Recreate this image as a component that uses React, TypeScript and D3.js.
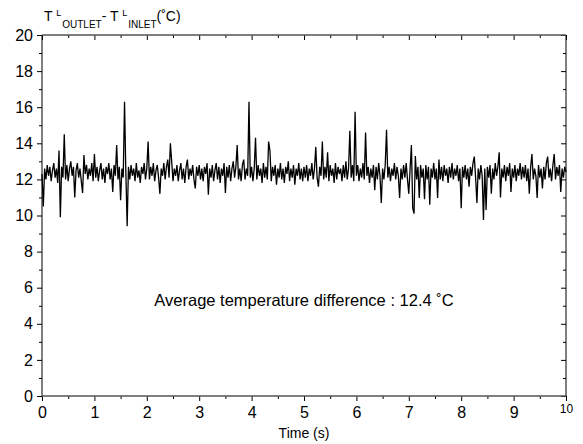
import React, { useEffect, useRef } from "react";
import * as d3 from "d3";

const sampleStep = 0.025;
const deltaT = [
  12.3, 10.5, 12.6, 12.0, 12.8, 12.2, 12.7, 11.9, 12.5, 12.9, 12.1, 12.6, 11.8, 13.6, 9.9, 12.7, 12.1, 14.5, 12.0, 12.8,
  11.9, 12.6, 13.0, 12.2, 12.7, 11.0, 12.5, 12.9, 12.1, 12.6, 11.9, 11.25, 13.35, 12.3, 12.8, 12.0, 12.6, 12.2, 12.9, 11.9,
  13.4, 12.1, 12.7, 11.9, 12.5, 12.9, 12.0, 12.6, 11.8, 12.7, 12.3, 12.9, 12.0, 12.6, 11.3, 12.8, 12.2, 13.9, 12.0, 12.7,
  10.85, 12.6, 12.1, 16.3, 12.4, 9.4, 12.7, 12.0, 12.8, 12.2, 12.6, 11.9, 12.9, 12.1, 12.5, 11.8, 12.7, 12.3, 12.9, 12.0,
  12.6, 14.1, 12.0, 12.7, 12.2, 12.9, 11.9, 12.5, 12.8, 12.1, 11.2, 12.6, 12.2, 12.9, 12.0, 12.7, 13.1, 12.1, 14.0, 13.0,
  11.9, 12.6, 12.2, 12.8, 11.9, 12.5, 12.9, 12.0, 12.6, 11.8, 12.7, 13.1, 12.0, 12.6, 12.2, 12.8, 12.0, 11.5, 12.7, 12.2,
  12.8, 12.0, 12.6, 11.9, 12.7, 12.3, 12.9, 11.15, 12.6, 12.1, 12.8, 11.9, 12.5, 12.9, 12.0, 12.7, 11.8, 12.6, 12.2, 12.9,
  11.25, 12.7, 12.1, 12.8, 11.9, 12.6, 13.0, 12.1, 12.7, 13.9, 12.0, 12.6, 11.9, 12.8, 13.1, 12.0, 12.6, 12.2, 16.3, 12.1,
  12.7, 11.9, 12.6, 14.3, 12.0, 12.8, 12.2, 12.6, 11.8, 12.9, 12.1, 12.7, 12.0, 14.1, 13.6, 11.9, 12.7, 12.2, 12.8, 11.7,
  12.6, 12.1, 12.9, 12.0, 12.6, 11.8, 12.7, 12.3, 13.0, 11.9, 12.6, 12.1, 12.8, 11.7, 12.6, 12.2, 12.9, 12.0, 12.6, 11.9,
  12.7, 12.1, 12.8, 11.9, 12.6, 12.2, 12.9, 12.0, 12.6, 13.8, 12.1, 11.6, 12.7, 12.2, 14.1, 12.0, 12.7, 12.1, 13.5, 11.9,
  12.8, 12.2, 12.6, 11.8, 12.9, 12.0, 12.7, 12.3, 12.6, 11.9, 12.8, 12.1, 13.0, 12.0, 12.6, 14.7, 12.1, 12.8, 11.9, 15.75,
  12.2, 12.8, 11.9, 12.6, 12.1, 12.9, 12.0, 14.6, 12.2, 12.7, 11.8, 12.6, 12.1, 12.8, 11.4, 12.7, 12.0, 12.9, 12.2, 10.7,
  12.6, 12.0, 12.8, 14.75, 12.1, 12.7, 11.9, 12.6, 12.2, 12.9, 12.0, 12.7, 12.2, 10.97, 12.6, 12.0, 12.8, 12.1, 12.9, 12.0,
  11.2, 12.6, 13.9, 10.4, 10.1, 13.3, 12.0, 12.7, 10.97, 12.8, 12.1, 12.6, 10.9, 12.8, 12.0, 12.7, 10.6, 12.6, 12.1, 12.9,
  12.0, 12.6, 10.97, 13.1, 12.0, 12.7, 11.9, 12.8, 12.2, 12.6, 11.8, 12.7, 12.1, 12.9, 12.0, 12.6, 12.2, 12.8, 11.9, 12.6,
  10.4, 12.7, 12.1, 12.8, 12.0, 12.6, 11.6, 12.7, 12.2, 12.9, 13.26, 12.1, 10.7, 12.6, 12.0, 12.8, 12.2, 9.75, 12.6, 10.3,
  12.7, 12.1, 12.8, 11.2, 12.6, 12.0, 12.9, 12.2, 12.7, 13.5, 11.0, 12.6, 12.1, 12.8, 11.9, 12.7, 12.2, 12.9, 11.3, 12.6,
  12.1, 12.8, 11.9, 12.6, 12.2, 12.9, 12.0, 12.7, 12.1, 12.8, 11.9, 12.6, 11.2, 12.7, 13.4, 12.0, 12.6, 12.2, 10.97, 12.8,
  12.1, 12.6, 11.5, 12.7, 12.0, 12.9, 13.26, 12.1, 12.6, 11.9, 12.8, 13.4, 12.0, 12.7, 12.2, 12.8, 11.3, 12.6, 12.1, 12.7,
  12.4,
];

const xTicks = [0, 1, 2, 3, 4, 5, 6, 7, 8, 9, 10];
const xMinor = [0.5, 1.5, 2.5, 3.5, 4.5, 5.5, 6.5, 7.5, 8.5, 9.5];
const yTicks = [0, 2, 4, 6, 8, 10, 12, 14, 16, 18, 20];
const yMinor = [1, 3, 5, 7, 9, 11, 13, 15, 17, 19];
const averageLabel = "Average temperature difference : 12.4 \u02daC";

const font = "'Liberation Sans', Arial, Helvetica, sans-serif";

const TemperatureChart = () => {
  const svgRef = useRef(null);
  const svgWidth = 583;
  const svgHeight = 444;
  const margin = { top: 35, right: 17, bottom: 48, left: 42 };
  const innerWidth = svgWidth - margin.left - margin.right;
  const innerHeight = svgHeight - margin.top - margin.bottom;

  useEffect(() => {
    const svg = d3.select(svgRef.current);
    svg.selectAll("*").remove();

    const xScale = d3.scaleLinear().domain([0, 10]).range([0, innerWidth]);
    const yScale = d3.scaleLinear().domain([0, 20]).range([innerHeight, 0]);

    const g = svg
      .append("g")
      .attr("transform", `translate(${margin.left},${margin.top})`);

    const axisG = (axis, x, y) => {
      const a = g.append("g").attr("transform", `translate(${x},${y})`).call(axis);
      a.select(".domain").remove();
      a.selectAll("line").attr("stroke", "#000");
      a.selectAll("text")
        .attr("fill", "#000")
        .style("font-family", font)
        .style("font-size", "16px");
      return a;
    };

    // left
    axisG(d3.axisLeft(yScale).tickValues(yTicks).tickSize(5).tickPadding(4).tickSizeOuter(0), 0, 0);
    axisG(d3.axisLeft(yScale).tickValues(yMinor).tickSize(3).tickFormat(() => ""), 0, 0);
    // right (ticks point inward)
    axisG(d3.axisLeft(yScale).tickValues(yTicks).tickSize(5).tickFormat(() => ""), innerWidth, 0);
    axisG(d3.axisLeft(yScale).tickValues(yMinor).tickSize(3).tickFormat(() => ""), innerWidth, 0);
    // top (ticks point inward)
    axisG(d3.axisBottom(xScale).tickValues(xTicks).tickSize(5).tickFormat(() => ""), 0, 0);
    axisG(d3.axisBottom(xScale).tickValues(xMinor).tickSize(3).tickFormat(() => ""), 0, 0);
    // bottom
    const xAxisG = axisG(
      d3.axisBottom(xScale).tickValues(xTicks).tickSize(5).tickPadding(6).tickFormat(d3.format("d")),
      0,
      innerHeight
    );
    axisG(d3.axisBottom(xScale).tickValues(xMinor).tickSize(3).tickFormat(() => ""), 0, innerHeight);
    xAxisG
      .selectAll("text")
      .filter((d) => d === 10)
      .style("font-size", "12px")
      .attr("y", 8);

    // frame
    g.append("line").attr("x1", 0).attr("x2", 0).attr("y1", 0).attr("y2", innerHeight).attr("stroke", "#000");
    g.append("line").attr("x1", innerWidth).attr("x2", innerWidth).attr("y1", 0).attr("y2", innerHeight).attr("stroke", "#000");
    g.append("line").attr("x1", 0).attr("x2", innerWidth).attr("y1", 0).attr("y2", 0).attr("stroke", "#555").attr("stroke-width", 1.5);
    g.append("line").attr("x1", 0).attr("x2", innerWidth).attr("y1", innerHeight).attr("y2", innerHeight).attr("stroke", "#555").attr("stroke-width", 1.5);

    const line = d3
      .line()
      .x((d, i) => xScale(i * sampleStep))
      .y((d) => yScale(d));

    g.append("path")
      .datum(deltaT)
      .attr("d", line)
      .attr("fill", "none")
      .attr("stroke", "#000")
      .attr("stroke-width", 1.3);

    g.append("text")
      .attr("x", xScale(5))
      .attr("y", yScale(5))
      .attr("text-anchor", "middle")
      .style("font-family", font)
      .style("font-size", "16.5px")
      .text(averageLabel);

    // x axis label
    g.append("text")
      .attr("x", xScale(5))
      .attr("y", innerHeight + 42)
      .attr("text-anchor", "middle")
      .style("font-family", font)
      .style("font-size", "14px")
      .text("Time (s)");

    // y axis title
    const title = svg
      .append("text")
      .attr("x", 44)
      .attr("y", 21)
      .style("font-family", font)
      .style("font-size", "14px");
    title.append("tspan").text("T ");
    title.append("tspan").attr("font-size", "9px").attr("dy", -5).text("L");
    title.append("tspan").attr("font-size", "10px").attr("dy", 12).attr("dx", 1).text("OUTLET");
    title.append("tspan").attr("dy", -7).text("- T ");
    title.append("tspan").attr("font-size", "9px").attr("dy", -5).text("L");
    title.append("tspan").attr("font-size", "10px").attr("dy", 12).attr("dx", 1).text("INLET");
    title.append("tspan").attr("dy", -7).text("(\u02daC)");
  }, []);

  return (
    <svg
      ref={svgRef}
      width={svgWidth}
      height={svgHeight}
      style={{ position: "absolute", left: 0, top: 0, background: "#fff" }}
    ></svg>
  );
};

export default function App() {
  return <TemperatureChart />;
}
